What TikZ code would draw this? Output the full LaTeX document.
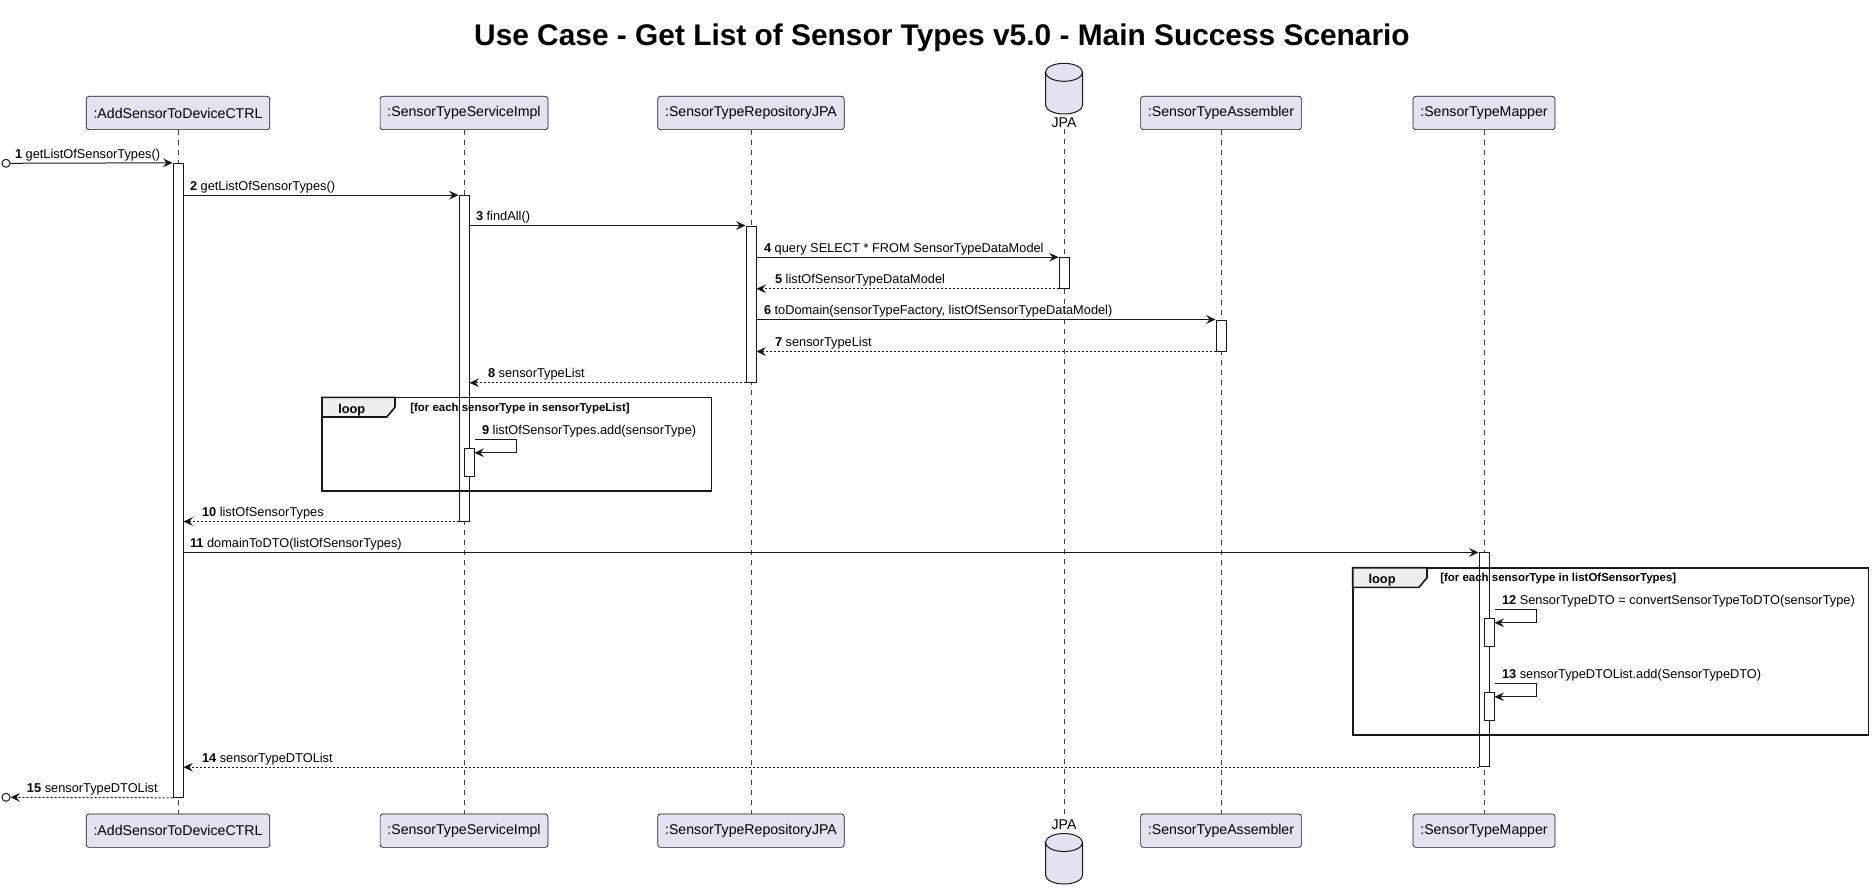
\documentclass[tikz,border=0pt]{standalone}
\usepackage{fontspec}
\setmainfont{Liberation Sans}
\usetikzlibrary{arrows.meta,positioning}
\definecolor{partfill}{HTML}{E2E2F0}
\definecolor{partline}{HTML}{181818}
\definecolor{tabfill}{HTML}{EEEEEE}
\tikzset{
  part/.style={draw=partline, line width=0.5pt, fill=partfill, rounded corners=2pt,
    minimum height=25pt, inner xsep=5.5pt, font=\fontsize{10.6}{12}\selectfont},
  life/.style={draw=partline!80, line width=0.4pt, dash pattern=on 3.75pt off 3.75pt},
  act/.style={draw=partline, fill=white, line width=0.75pt, minimum width=7.5pt, inner sep=0pt},
  msg/.style={draw=partline, line width=0.75pt, -{Stealth[length=7pt,width=6.5pt,inset=2.5pt]}},
  ret/.style={msg, dash pattern=on 1.5pt off 1.5pt},
  lbl/.style={font=\fontsize{9.6}{11}\selectfont, inner sep=0pt, anchor=base west},
  guard/.style={font=\bfseries\fontsize{8.6}{10}\selectfont, inner sep=0pt, anchor=base west},
  looplbl/.style={font=\bfseries\fontsize{9.6}{11}\selectfont, inner sep=0pt, anchor=base west},
  frame/.style={draw=partline, line width=1.2pt},
  db/.style={draw=partline, line width=0.75pt, fill=partfill},
  gate/.style={circle, draw=partline, line width=0.75pt, fill=white, minimum size=6pt, inner sep=0pt},
}
\begin{document}
\begin{tikzpicture}[x=0.75pt, y=-0.75pt]
\useasboundingbox (0,0) rectangle (1872,895);

\node[font=\bfseries\fontsize{22.4}{26}\selectfont, anchor=base] (title) at (942,46)
  {Use Case - Get List of Sensor Types v5.0 - Main Success Scenario};

% participants, top and bottom
\node[part] (ctrl) at (178,113) {:AddSensorToDeviceCTRL};
\node[part] (serv) at (464,113) {:SensorTypeServiceImpl};
\node[part] (repo) at (751,113) {:SensorTypeRepositoryJPA};
\node[inner sep=1pt, font=\fontsize{10.6}{12}\selectfont] (jpa) at (1064,122.7) {JPA};
\node[part] (asm) at (1221,113) {:SensorTypeAssembler};
\node[part] (map) at (1484,113) {:SensorTypeMapper};

\node[part] (ctrlB) at (178,830.7) {:AddSensorToDeviceCTRL};
\node[part] (servB) at (464,830.7) {:SensorTypeServiceImpl};
\node[part] (repoB) at (751,830.7) {:SensorTypeRepositoryJPA};
\node[inner sep=1pt, font=\fontsize{10.6}{12}\selectfont] (jpaB) at (1064,825) {JPA};
\node[part] (asmB) at (1221,830.7) {:SensorTypeAssembler};
\node[part] (mapB) at (1484,830.7) {:SensorTypeMapper};

% database cylinders
\foreach \yt/\yb in {72.3/105, 842.5/875}{
  \draw[db] (1045.5,\yt) -- (1045.5,\yb)
    arc[start angle=180, end angle=360, x radius=13.9pt, y radius=6.75pt]
    -- (1082.5,\yt)
    arc[start angle=0, end angle=180, x radius=13.9pt, y radius=6.75pt] -- cycle;
  \draw[db, fill=none] (1045.5,\yt)
    arc[start angle=180, end angle=360, x radius=13.9pt, y radius=6.75pt];
}

% lifelines
\foreach \p in {ctrl,serv,repo,jpa,asm,map}
  \draw[life] (\p.south) -- (\p B.north);

% activations
\node[act, minimum height=475.5pt] (A1) at (178,480.3) {};
\node[act, minimum height=244pt] (A2) at (464,358.35) {};
\node[act, minimum height=117.2pt] (A3) at (751,304.15) {};
\node[act, minimum height=22.95pt] (A4) at (1064,273) {};
\node[act, minimum height=23.25pt] (A5) at (1221,335.5) {};
\node[act, minimum height=20.8pt] (A6) at (469,462.15) {};
\node[act, minimum height=160.3pt] (A7) at (1484,659.85) {};
\node[act, minimum height=21pt] (A8) at (1489,632.3) {};
\node[act, minimum height=21pt] (A9) at (1489,706.3) {};

% gates
\node[gate] (gin) at (6,163.3) {};
\node[gate] (gout) at (6,797.3) {};

% messages
\draw[msg] (gin) -- (A1.north west)
  node[lbl, at start, shift={(4,-5)}] {\textbf{1} getListOfSensorTypes()};
\draw[msg] (A1.east |- A2.north) -- (A2.north west)
  node[lbl, at start, shift={(6,-5)}] {\textbf{2} getListOfSensorTypes()};
\draw[msg] (A2.east |- A3.north) -- (A3.north west)
  node[lbl, at start, shift={(6,-5)}] {\textbf{3} findAll()};
\draw[msg] (A3.east |- A4.north) -- (A4.north west)
  node[lbl, at start, shift={(7,-5)}] {\textbf{4} query SELECT * FROM SensorTypeDataModel};
\draw[ret] (A4.south west) -- (A3.east |- A4.south)
  node[lbl, at end, shift={(18,-5)}] {\textbf{5} listOfSensorTypeDataModel};
\draw[msg] (A3.east |- A5.north) -- (A5.north west)
  node[lbl, at start, shift={(7,-5)}] {\textbf{6} toDomain(sensorTypeFactory, listOfSensorTypeDataModel)};
\draw[ret] (A5.south west) -- (A3.east |- A5.south)
  node[lbl, at end, shift={(18,-5)}] {\textbf{7} sensorTypeList};
\draw[ret] (A3.south west) -- (A2.east |- A3.south)
  node[lbl, at end, shift={(18,-5)}] {\textbf{8} sensorTypeList};
\draw[msg] ([yshift=6pt]A6.north east)
  node[lbl, shift={(7,-5)}] {\textbf{9} listOfSensorTypes.add(sensorType)}
  -- ++(42,0) |- ([yshift=-3.75pt]A6.north east);
\draw[ret] (A2.south west) -- (A1.east |- A2.south)
  node[lbl, at end, shift={(18,-5)}] {\textbf{10} listOfSensorTypes};
\draw[msg] (A1.east |- A7.north) -- (A7.north west)
  node[lbl, at start, shift={(6,-5)}] {\textbf{11} domainToDTO(listOfSensorTypes)};
\draw[msg] ([yshift=6pt]A8.north east)
  node[lbl, shift={(7,-5)}] {\textbf{12} SensorTypeDTO = convertSensorTypeToDTO(sensorType)}
  -- ++(42,0) |- ([yshift=-3.75pt]A8.north east);
\draw[msg] ([yshift=6pt]A9.north east)
  node[lbl, shift={(7,-5)}] {\textbf{13} sensorTypeDTOList.add(SensorTypeDTO)}
  -- ++(42,0) |- ([yshift=-3.75pt]A9.north east);
\draw[ret] (A7.south west) -- (A1.east |- A7.south)
  node[lbl, at end, shift={(18,-5)}] {\textbf{14} sensorTypeDTOList};
\draw[ret] (A1.south west) -- (gout)
  node[lbl, at end, shift={(16,-5)}] {\textbf{15} sensorTypeDTOList};

% loop frames
\draw[frame] (322,397.3) rectangle (711.6,491);
\filldraw[frame, fill=tabfill] (322,397.3) -- (395,397.3) -- (395,407.3)
  -- (386.7,417) -- (322,417) -- cycle;
\node[looplbl] (loopA) at (338,413) {loop};
\node[guard] (guardA) at (410,411.5) {[for each sensorType in sensorTypeList]};

\draw[frame] (1352.7,567.7) rectangle (1868.6,735);
\filldraw[frame, fill=tabfill] (1352.7,567.7) -- (1427,567.7) -- (1427,577.7)
  -- (1419,587.3) -- (1352.7,587.3) -- cycle;
\node[looplbl] (loopB) at (1368.3,583.3) {loop};
\node[guard] (guardB) at (1440,581.7) {[for each sensorType in listOfSensorTypes]};
\end{tikzpicture}
\end{document}
